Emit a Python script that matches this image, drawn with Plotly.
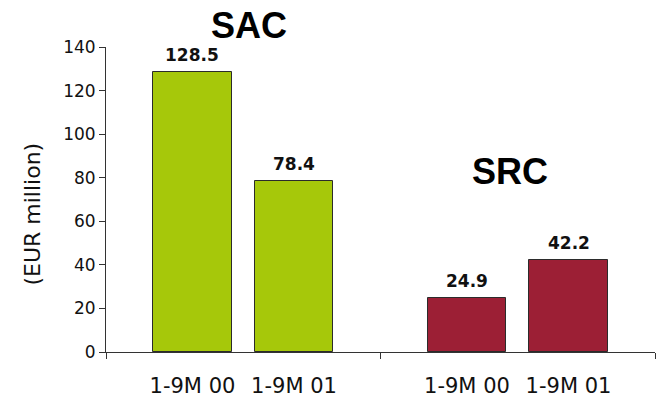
import plotly.graph_objects as go

# Segment results, EUR million
segments = ["SAC", "SRC"]
periods = ["1-9M 00", "1-9M 01"]
sac_values = [128.5, 78.4]
src_values = [24.9, 42.2]
y_ticks = [0, 20, 40, 60, 80, 100, 120, 140]

segment_colors = ["#A6C80A", "#9C1F35"]

# Each segment occupies two units on a numeric x axis; the two periods sit
# symmetrically around the segment centre.
GROUP_SPAN = 2.0
OFFSET = 0.37
BAR_WIDTH = 0.57

fig = go.Figure()

label_x, label_text = [], []
for g, (seg, vals) in enumerate(zip(segments, [sac_values, src_values])):
    centre = g * GROUP_SPAN + GROUP_SPAN / 2
    xs = [centre - OFFSET, centre + OFFSET]
    fig.add_trace(go.Bar(
        x=xs, y=vals, width=BAR_WIDTH, name=seg,
        marker=dict(color=segment_colors[g], line=dict(color="#2b2b2b", width=1)),
        showlegend=False, hoverinfo="x+y",
    ))
    label_x += xs
    label_text += periods
    for x, v in zip(xs, vals):
        fig.add_annotation(
            x=x, y=v, xref="x", yref="y", text=f"{v:.1f}", showarrow=False,
            yanchor="bottom", yshift=5,
            font=dict(family="DejaVu Sans", size=17, color="#111111", weight="bold"),
        )

# Segment headings
heading_font = dict(family="Liberation Sans", size=36, color="#000000", weight="bold")
fig.add_annotation(x=0.2605, y=1.072, xref="paper", yref="paper", text="SAC",
                   showarrow=False, xanchor="center", yanchor="middle", font=heading_font)
fig.add_annotation(x=2.94, y=83, xref="x", yref="y", text="SRC",
                   showarrow=False, xanchor="center", yanchor="middle", font=heading_font)

# Rotated y-axis caption
fig.add_annotation(x=-0.134, y=0.452, xref="paper", yref="paper", text="(EUR million)",
                   textangle=-90, showarrow=False, xanchor="center", yanchor="middle",
                   font=dict(family="DejaVu Sans", size=22, color="#111111"))

x_range = [0, GROUP_SPAN * len(segments)]

fig.update_layout(
    width=656, height=398,
    margin=dict(l=106, r=1, t=47, b=46),
    paper_bgcolor="white", plot_bgcolor="white",
    bargap=0,
    xaxis=dict(
        range=x_range, tickmode="array", tickvals=label_x, ticktext=label_text,
        ticks="", showline=True, linecolor="#333333", linewidth=1,
        showgrid=False, zeroline=False, ticklabelstandoff=15, automargin=False,
        tickfont=dict(family="DejaVu Sans", size=21, color="#111111"),
    ),
    xaxis2=dict(
        overlaying="x", anchor="y", side="bottom", range=x_range,
        tickmode="array", tickvals=[0, 2, 4], ticks="outside", ticklen=6,
        tickcolor="#333333", showticklabels=False, showgrid=False, zeroline=False,
        showline=False, automargin=False,
    ),
    yaxis=dict(
        range=[0, 140], tickmode="array", tickvals=y_ticks, ticks="outside",
        ticklen=6, tickcolor="#333333", showline=True, linecolor="#333333",
        linewidth=1, showgrid=False, zeroline=False, automargin=False,
        tickfont=dict(family="DejaVu Sans", size=17, color="#111111"),
    ),
)

# invisible trace so the secondary axis is rendered
fig.add_trace(go.Scatter(x=x_range, y=[0, 0], xaxis="x2", mode="markers",
                         marker=dict(opacity=0), showlegend=False, hoverinfo="skip"))

fig.write_html("out.html")
